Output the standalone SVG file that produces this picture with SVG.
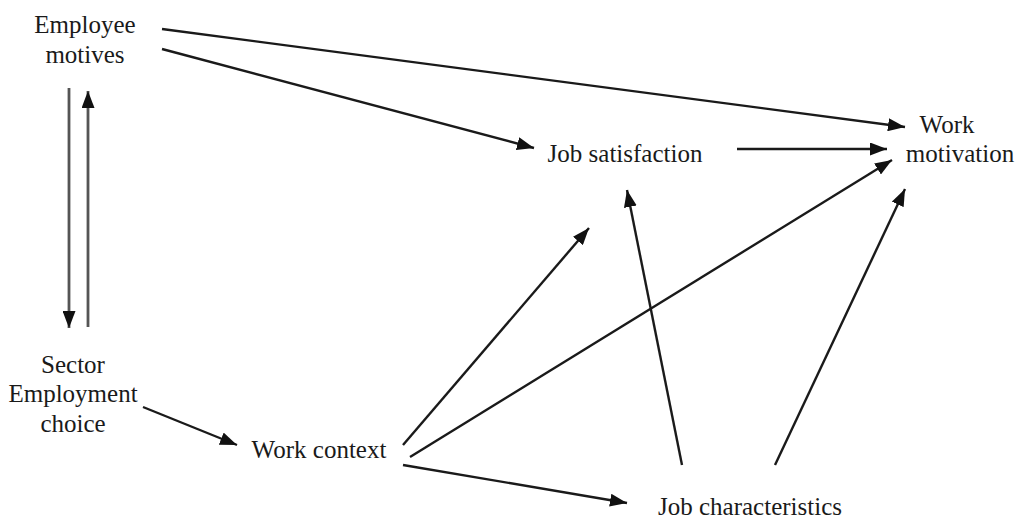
<svg xmlns="http://www.w3.org/2000/svg" width="1015" height="522" viewBox="0 0 1015 522">
<style>
text{font-family:"Liberation Serif","Times New Roman",serif;font-size:25px;fill:#1a1a1a;text-anchor:middle}
.c line{stroke:#1a1a1a;stroke-width:2.4;marker-end:url(#ah)}
.c line.g{stroke:#555;stroke-width:2.8}
</style>
<defs>
<marker id="ah" markerUnits="userSpaceOnUse" markerWidth="17" markerHeight="13" viewBox="0 0 17 13" refX="17" refY="6.5" orient="auto">
<path d="M0,0 L17,6.5 L0,13 Z" fill="#111"/>
</marker>
</defs>
<rect width="1015" height="522" fill="#fff"/>
<g class="c" id="connectors">
<line x1="162" y1="29" x2="905" y2="127"/>
<line x1="162" y1="49" x2="534" y2="148"/>
<line class="g" x1="69" y1="88" x2="69" y2="328"/>
<line class="g" x1="88" y1="327" x2="88" y2="91"/>
<line x1="737" y1="149" x2="887" y2="149"/>
<line x1="143" y1="407" x2="237" y2="445"/>
<line x1="403" y1="445" x2="589" y2="228"/>
<line x1="410" y1="457" x2="892" y2="160"/>
<line x1="403" y1="465" x2="627" y2="503"/>
<line x1="682" y1="465" x2="627" y2="190"/>
<line x1="775" y1="465" x2="905" y2="189"/>
</g>
<g id="employee-motives"><text x="85" y="33">Employee</text><text x="85" y="63">motives</text></g>
<g id="job-satisfaction"><text x="625" y="162">Job satisfaction</text></g>
<g id="work-motivation"><text x="947" y="133">Work</text><text x="960" y="162">motivation</text></g>
<g id="sector-employment-choice"><text x="73" y="373">Sector</text><text x="73" y="402">Employment</text><text x="73" y="432">choice</text></g>
<g id="work-context"><text x="319" y="458">Work context</text></g>
<g id="job-characteristics"><text x="750" y="515">Job characteristics</text></g>
</svg>
